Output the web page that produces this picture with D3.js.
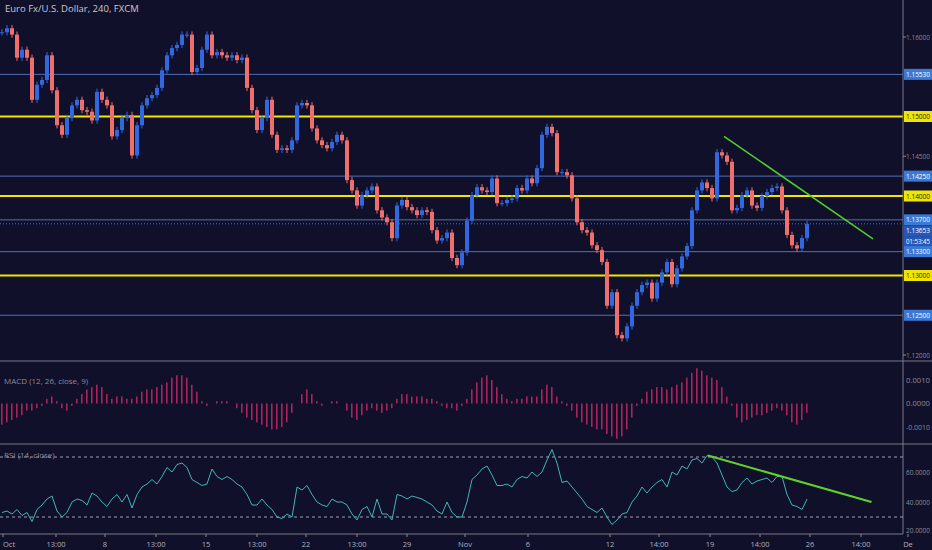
<!DOCTYPE html>
<html><head><meta charset="utf-8">
<script src="https://cdn.jsdelivr.net/npm/d3@7"></script>
<style>body{margin:0;background:#11102a;overflow:hidden}text{font-family:"Open Sans",sans-serif}</style>
</head><body><svg width="932" height="550"></svg>
<script>
// closes of each 4h candle (open = previous close)
const closes = [1.1606,1.1611,1.1603,1.1574,1.1584,1.1574,1.1521,1.1540,1.1546,1.1577,1.1533,1.1489,1.1477,1.1498,1.1514,1.1521,1.1508,1.1506,1.1495,1.1531,
1.1521,1.1514,1.1475,1.1483,1.1498,1.1502,1.1451,1.1489,1.1514,1.1523,1.1527,1.1536,1.1558,1.1577,1.1586,1.1590,1.1603,1.1603,1.1556,1.1561,
1.1584,1.1603,1.1577,1.1581,1.1577,1.1574,1.1577,1.1571,1.1574,1.1536,1.1508,1.1483,1.1498,1.1521,1.1477,1.1458,1.1460,1.1458,1.1470,1.1514,
1.1517,1.1514,1.1485,1.1470,1.1464,1.1460,1.1468,1.1477,1.1470,1.1420,1.1407,1.1388,1.1401,1.1407,1.1412,1.1382,1.1373,1.1367,1.1347,1.1388,
1.1395,1.1386,1.1382,1.1376,1.1382,1.1380,1.1357,1.1344,1.1347,1.1354,1.1322,1.1313,1.1329,1.1369,1.1401,1.1411,1.1407,1.1405,1.1422,1.1391,
1.1391,1.1395,1.1397,1.1410,1.1407,1.1422,1.1416,1.1435,1.1477,1.1487,1.1479,1.1430,1.1430,1.1426,1.1397,1.1367,1.1357,1.1354,1.1338,1.1332,
1.1317,1.1262,1.1279,1.1225,1.1221,1.1236,1.1262,1.1279,1.1288,1.1291,1.1271,1.1291,1.1304,1.1317,1.1289,1.1309,1.1324,1.1337,1.1382,1.1407,
1.1417,1.1410,1.1397,1.1455,1.1451,1.1443,1.1382,1.1385,1.1401,1.1407,1.1388,1.1385,1.1400,1.1405,1.1410,1.1412,1.1382,1.1351,1.1338,1.1334,
1.1347,1.1365];
const macdHist = [-9,-8,-7,-6,-5,-3,-3,-2,-1,2,3,1,-2,-3,-1,2,4,6,7,8,7,4,2,3,3,2,2,3,5,6,6,7,8,9,11,12,12,11,8,5,
1,-1,0,1,1,1,0,-2,-4,-6,-7,-8,-9,-10,-11,-11,-10,-8,-4,0,4,6,4,1,-1,0,1,1,0,-3,-6,-7,-5,-3,-2,-3,-4,-3,-2,2,
4,4,3,3,3,2,2,1,-1,-2,-2,-3,-1,2,6,9,11,12,10,7,4,2,1,2,2,3,3,3,6,8,7,3,1,-1,-3,-6,-8,-9,-10,-11,
-11,-13,-14,-15,-14,-11,-6,-1,2,5,6,7,7,6,7,8,9,11,13,15,14,12,11,10,7,3,-1,-6,-8,-7,-6,-5,-5,-4,-3,-2,-3,-5,
-8,-9,-7,-4].map(v => v / 10000);
const rsi = [33,34,32,35,31,33,27,35,38,42,44,34,30,33,40,42,41,38,46,44,
40,37,42,45,40,45,36,45,50,52,55,52,57,63,60,65,66,63,55,53,51,52,62,57,55,57,55,52,50,45,
38,38,42,38,35,30,29,32,30,50,48,51,45,40,38,37,42,40,40,38,32,28,35,37,30,42,32,32,28,45,
44,42,44,43,42,40,38,34,32,40,33,30,30,40,55,58,62,64,58,51,51,52,50,55,57,56,60,57,60,68,
75,66,53,54,50,46,42,37,35,33,36,30,25,28,32,33,40,44,50,46,50,53,55,50,60,58,64,62,68,69,
66,71,70,66,58,50,47,48,53,56,52,54,55,56,53,57,57,45,38,37,35,42];
const yellowLevels = [1.15, 1.14, 1.13];
const blueLevels = [1.1553, 1.1425, 1.137, 1.133, 1.125];
const priceTicks = [1.16, 1.145, 1.12];
const timeTicks = [[0.2,"Oct"],[10.8,"13:00"],[20.6,"8"],[30.8,"13:00"],[40.8,"15"],[51,"13:00"],[60.8,"22"],[71,"13:00"],[81,"29"],
 [92.6,"Nov"],[105.2,"6"],[121.6,"12"],[131.4,"14:00"],[141.6,"19"],[151.6,"14:00"],[161.6,"26"],[171.8,"14:00"],[181.2,"De"]];
const priceTrend = [[144.4, 1.1475], [174.2, 1.1346]];
const rsiTrend = [[141.2, 71], [173.9, 40]];

const svg = d3.select("svg");
const W = 903;
const x = d3.scaleLinear().domain([0, 161]).range([2, 807]);
const y = d3.scaleLinear().domain([1.12, 1.16]).range([355, 37]);
const ym = d3.scaleLinear().domain([-0.001, 0.001]).range([427, 380]);
const yr = d3.scaleLinear().domain([20, 60]).range([532, 472]);
const grey = "#8a8b99";

// level lines
svg.selectAll(".bl").data(blueLevels).enter().append("line")
  .attr("x1", 0).attr("x2", W).attr("y1", d => y(d)).attr("y2", d => y(d))
  .attr("stroke", "#4d70b8").attr("stroke-width", 1);
svg.selectAll(".yl").data(yellowLevels).enter().append("line")
  .attr("x1", 0).attr("x2", W).attr("y1", d => y(d)).attr("y2", d => y(d))
  .attr("stroke", "#f2e600").attr("stroke-width", 2);
svg.append("line").attr("x1", 0).attr("x2", W).attr("y1", y(1.1365)).attr("y2", y(1.1365))
  .attr("stroke", "#3d6bd0").attr("stroke-width", 1).attr("stroke-dasharray", "1,2");

// candles
const cd = closes.map((c, i) => {
  const o = i ? closes[i - 1] : c;
  return { i, o, c, h: Math.max(o, c) + 0.0004, l: Math.min(o, c) - 0.0004 };
});
const col = d => d.c >= d.o ? "#3168e0" : "#ef6f6c";
svg.selectAll(".wick").data(cd).enter().append("line")
  .attr("x1", d => x(d.i)).attr("x2", d => x(d.i)).attr("y1", d => y(d.h)).attr("y2", d => y(d.l))
  .attr("stroke", col).attr("stroke-width", 1);
svg.selectAll(".body").data(cd).enter().append("rect")
  .attr("x", d => x(d.i) - 2).attr("width", 4)
  .attr("y", d => y(Math.max(d.o, d.c))).attr("height", d => Math.max(1, Math.abs(y(d.o) - y(d.c))))
  .attr("fill", col);

// trend lines
const line = (sx, sy) => d3.line().x(d => sx(d[0])).y(d => sy(d[1]));
svg.append("path").attr("d", line(x, y)(priceTrend)).attr("stroke", "#4fd12a").attr("stroke-width", 1.5).attr("fill", "none");

// panes
svg.append("line").attr("x1", 0).attr("x2", 932).attr("y1", 361).attr("y2", 361).attr("stroke", "#7a7b88");
svg.append("line").attr("x1", 0).attr("x2", 932).attr("y1", 444).attr("y2", 444).attr("stroke", "#7a7b88");
svg.append("line").attr("x1", 0).attr("x2", W).attr("y1", 534).attr("y2", 534).attr("stroke", "#7a7b88");
svg.append("line").attr("x1", W).attr("x2", W).attr("y1", 0).attr("y2", 534).attr("stroke", "#7a7b88");

// MACD
svg.selectAll(".mh").data(macdHist).enter().append("rect")
  .attr("x", (d, i) => x(i) - 1).attr("width", 1.6)
  .attr("y", d => ym(Math.max(0, d))).attr("height", d => Math.abs(ym(d) - ym(0)))
  .attr("fill", "#a8245c");

// RSI
[70, 30].forEach(v => svg.append("line").attr("x1", 0).attr("x2", W).attr("y1", yr(v)).attr("y2", yr(v))
  .attr("stroke", "#a0a0b0").attr("stroke-dasharray", "3,3"));
svg.append("path").attr("d", d3.line().x((d, i) => x(i)).y(d => yr(d))(rsi))
  .attr("stroke", "#3fb6b6").attr("stroke-width", 1).attr("fill", "none");
svg.append("path").attr("d", line(x, yr)(rsiTrend)).attr("stroke", "#5ed32b").attr("stroke-width", 2).attr("fill", "none");

// labels
const txt = (tx, ty, s, c, size, anchor) => svg.append("text").attr("x", tx).attr("y", ty).text(s)
  .attr("fill", c).attr("font-size", size || 8).attr("text-anchor", anchor || "start");
const axTxt = (ty, s, c) => txt(906, ty, s, c, 7).attr("textLength", 24).attr("lengthAdjust", "spacingAndGlyphs");
txt(5, 12, "Euro Fx/U.S. Dollar, 240, FXCM", "#c9c9d3", 9.5);
txt(4, 384, "MACD (12, 26, close, 9)", grey, 8);
txt(4, 458, "RSI (14, close)", grey, 8);

priceTicks.forEach(p => { axTxt(y(p) + 2.5, p.toFixed(5), grey);
  svg.append("line").attr("x1", W).attr("x2", W + 3).attr("y1", y(p)).attr("y2", y(p)).attr("stroke", grey); });
[0.001, 0, -0.001].forEach(v => axTxt(ym(v) + 2.5, v.toFixed(4), grey));
[60, 40, 20].forEach(v => axTxt(Math.min(yr(v) + 2.5, 533), v.toFixed(4), grey));

const box = (p, s, fill, tc) => {
  svg.append("rect").attr("x", W + 1).attr("y", y(p) - 5.5).attr("width", 28).attr("height", 11).attr("fill", fill);
  axTxt(y(p) + 2.5, s, tc);
};
blueLevels.forEach(p => { if (p !== 1.133) box(p, p.toFixed(5), "#3b79d6", "#fff"); });
yellowLevels.forEach(p => box(p, p.toFixed(5), "#f2e600", "#222"));
box(1.1356, "1.13653", "#2557b8", "#fff");
box(1.13425, "01:53:45", "#2557b8", "#fff");
box(1.1330, "1.13300", "#3b79d6", "#fff");

timeTicks.forEach(([i, s]) => {
  svg.append("line").attr("x1", x(i)).attr("x2", x(i)).attr("y1", 534).attr("y2", 537).attr("stroke", grey);
  txt(x(i), 547, s, "#b0b0bc", 7.5, i < 1 ? "start" : "middle");
});
</script></body></html>
